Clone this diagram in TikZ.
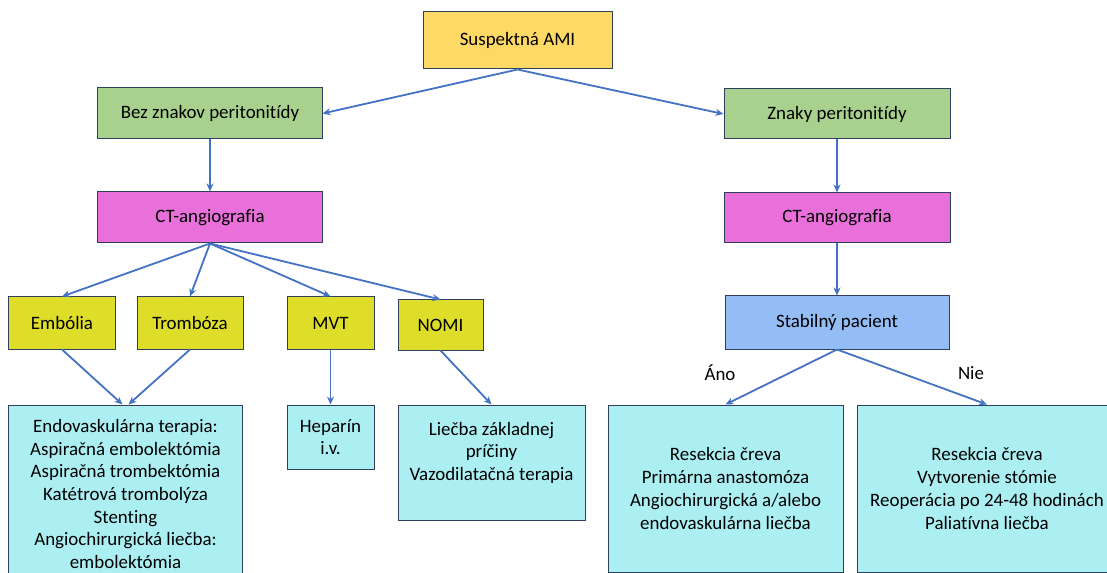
\documentclass[tikz,border=0pt]{standalone}
\usepackage{fontspec}
\setmainfont{Carlito}[Ligatures=NoCommon]
\usetikzlibrary{arrows.meta}
\definecolor{edge}{HTML}{2F3F5C}
\definecolor{link}{HTML}{4472C4}
\definecolor{cgold}{HTML}{FFD966}
\definecolor{cgreen}{HTML}{A9D18E}
\definecolor{cpink}{HTML}{E96FDA}
\definecolor{cyell}{HTML}{DDDD2A}
\definecolor{cblue}{HTML}{93BDF4}
\definecolor{ccyan}{HTML}{ABEFF3}
\newcommand{\boxfont}{\fontsize{19}{22.8}\selectfont}
\tikzset{
  box/.style={draw=edge, line width=1bp, inner sep=0pt, align=center, font=\boxfont},
  arr/.style={draw=link, line width=1.8bp, -{Stealth[length=8bp,width=7bp]}},
  lbl/.style={font=\boxfont, inner sep=0pt}
}
\begin{document}
\begin{tikzpicture}[x=1bp, y=-1bp]
\useasboundingbox[fill=white] (0,0) rectangle (1107,573);

% top level
\node[box, fill=cgold, minimum width=189bp, minimum height=57bp] (susp) at (517.5,40.5) {Suspektná AMI};
\node[box, fill=cgreen, minimum width=224bp, minimum height=51bp] (bez) at (210,113.5) {Bez znakov peritonitídy};
\node[box, fill=cgreen, minimum width=226bp, minimum height=50bp] (znaky) at (837,114) {Znaky peritonitídy};
\node[box, fill=cpink, minimum width=224bp, minimum height=51bp] (ctl) at (210,217.5) {CT-angiografia};
\node[box, fill=cpink, minimum width=226bp, minimum height=50bp] (ctr) at (837,218) {CT-angiografia};

% left branch: causes
\node[box, fill=cyell, minimum width=106bp, minimum height=52bp] (emb) at (62,323) {Embólia};
\node[box, fill=cyell, minimum width=106bp, minimum height=52bp] (trom) at (190,323) {Trombóza};
\node[box, fill=cyell, minimum width=87bp, minimum height=52bp] (mvt) at (330.5,323) {MVT};
\node[box, fill=cyell, minimum width=85bp, minimum height=50bp] (nomi) at (440.5,325) {NOMI};

% right branch
\node[box, fill=cblue, minimum width=224bp, minimum height=53bp] (stab) at (837,322.5) {Stabilný pacient};

% therapies
\node[box, fill=ccyan, minimum width=233bp, minimum height=178bp] (endo) at (125.5,494)
  {Endovaskulárna terapia:\\Aspiračná embolektómia\\Aspiračná trombektómia\\Katétrová trombolýza\\Stenting\\Angiochirurgická liečba:\\embolektómia};
\node[box, fill=ccyan, minimum width=87bp, minimum height=64bp] (hep) at (330.5,437) {Heparín\\i.v.};
\node[box, fill=ccyan, minimum width=187bp, minimum height=115bp] (lie) at (491.5,462.5)
  {Liečba základnej\\príčiny\\Vazodilatačná terapia\\\mbox{}};
\node[box, fill=ccyan, minimum width=235bp, minimum height=167bp] (resl) at (725.5,488.5)
  {Resekcia čreva\\Primárna anastomóza\\Angiochirurgická a/alebo\\endovaskulárna liečba};
\node[box, fill=ccyan, minimum width=260bp, minimum height=167bp] (resr) at (987,488.5)
  {Resekcia čreva\\Vytvorenie stómie\\Reoperácia po 24-48 hodinách\\Paliatívna liečba};

\node[lbl] (ano) at (720,373) {Áno};
\node[lbl] (nie) at (971,373) {Nie};

% connectors
\draw[arr] (susp.south) -- (bez.east);
\draw[arr] (susp.south) -- (znaky.west);
\draw[arr] (bez.south) -- (ctl.north);
\draw[arr] (znaky.south) -- (ctr.north);
\draw[arr] (ctr.south) -- (stab.north);
\draw[arr] (ctl.south) -- (emb.north);
\draw[arr] (ctl.south) -- (trom.north);
\draw[arr] (ctl.south) -- (mvt.north);
\draw[arr] (ctl.south) -- (nomi.north);
\draw[arr] (emb.south) -- ([xshift=-3bp]endo.north);
\draw[arr] (trom.south) -- ([xshift=3bp]endo.north);
\draw[arr] (mvt.south) -- (hep.north);
\draw[arr] (nomi.south) -- (lie.north);
\draw[arr] (stab.south) -- (resl.north);
\draw[arr] (stab.south) -- (resr.north);
\end{tikzpicture}
\end{document}
